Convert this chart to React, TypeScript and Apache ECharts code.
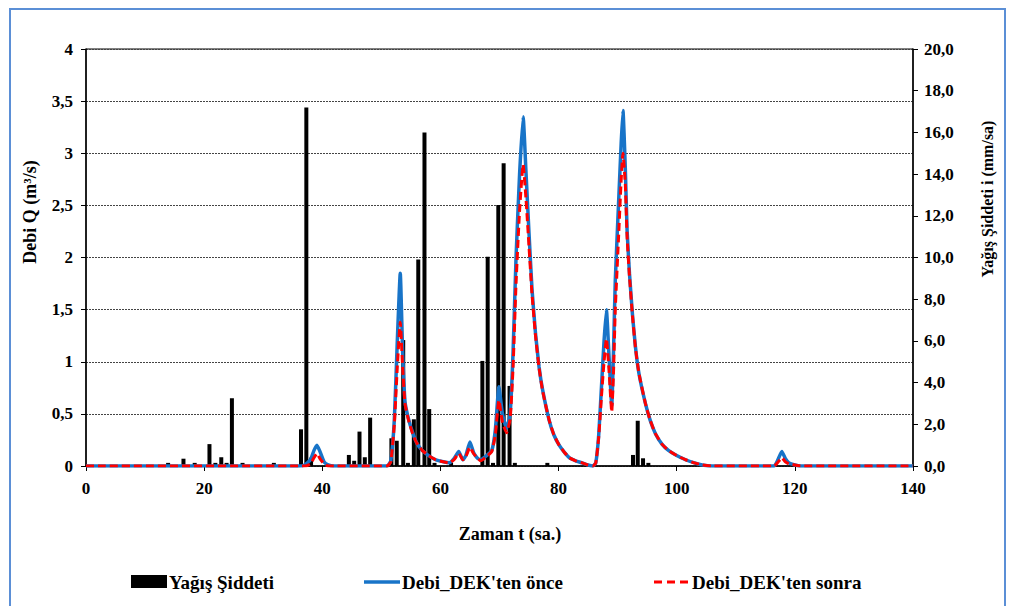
import React, { useEffect, useRef } from "react";
import * as echarts from "echarts";

// Rainfall intensity (mm/sa) – right axis
const rainTimes = [13.9, 16.5, 18.4, 20.9, 21.9, 22.9, 23.8, 24.7, 26.5, 31.8, 36.4, 37.3, 38.1, 44.5, 45.4, 46.3, 47.2, 48.1, 51.7, 52.6, 53.7, 54.5, 55.5, 56.25, 57.3, 58.1, 59.0, 61.8, 67.1, 68.0, 68.9, 69.8, 70.7, 71.7, 72.6, 78.1, 92.6, 93.4, 94.3, 95.2];
const rainValues = [0.15, 0.35, 0.15, 1.05, 0.15, 0.42, 0.15, 3.25, 0.15, 0.15, 1.76, 17.2, 0.4, 0.53, 0.25, 1.65, 0.42, 2.32, 1.33, 1.21, 6.04, 0.15, 2.24, 9.91, 16.0, 2.73, 0.15, 0.15, 5.04, 10.04, 0.15, 12.52, 14.52, 3.84, 0.15, 0.15, 0.53, 2.17, 0.37, 0.15];

// Discharge (m3/s) – left axis
const flowTimes = [0, 36, 37, 38, 38.6, 39.1, 39.6, 40.3, 41, 42, 51, 51.6, 52.2, 52.7, 53.2, 53.6, 54, 54.6, 55.3, 56, 56.9, 58, 59.2, 60.5, 61.5, 62.3, 63.1, 63.8, 64.3, 65, 65.6, 66.2, 66.8, 67.8, 68.7, 69.3, 69.9, 70.5, 71.2, 71.8, 72.3, 72.8, 73.4, 74, 74.5, 75, 75.5, 76.1, 76.7, 77.3, 78.4, 79.2, 80.1, 81, 81.8, 82.9, 84, 85, 85.8, 86.3, 86.8, 87.3, 87.7, 88.1, 88.5, 89, 89.3, 89.6, 90.2, 90.6, 90.9, 91.3, 91.6, 92, 92.5, 93, 93.6, 94.7, 95.5, 96.4, 97.5, 98.6, 100, 101.5, 103, 104.3, 106, 116.5, 117.2, 117.8, 118.4, 119, 120, 121, 140];
const flowBefore = [0, 0, 0.01, 0.06, 0.15, 0.2, 0.14, 0.04, 0.01, 0, 0, 0.05, 0.45, 1.2, 1.85, 1.1, 0.62, 0.45, 0.32, 0.22, 0.15, 0.1, 0.06, 0.04, 0.03, 0.07, 0.14, 0.06, 0.1, 0.23, 0.13, 0.08, 0.06, 0.1, 0.15, 0.35, 0.76, 0.5, 0.36, 0.5, 1.1, 2.0, 2.8, 3.35, 2.8, 2.23, 1.7, 1.27, 0.95, 0.73, 0.44, 0.3, 0.2, 0.13, 0.08, 0.05, 0.03, 0.01, 0, 0.03, 0.3, 0.8, 1.2, 1.5, 1.1, 0.58, 1.1, 1.78, 2.58, 3.1, 3.41, 2.85, 2.26, 1.85, 1.46, 1.15, 0.89, 0.6, 0.44, 0.31, 0.21, 0.15, 0.1, 0.06, 0.03, 0.01, 0, 0, 0.07, 0.14, 0.07, 0.03, 0.01, 0, 0];
const flowAfter = [0, 0, 0, 0.02, 0.08, 0.12, 0.07, 0.02, 0, 0, 0, 0.04, 0.4, 0.95, 1.38, 0.95, 0.6, 0.44, 0.31, 0.22, 0.15, 0.1, 0.06, 0.04, 0.03, 0.06, 0.12, 0.06, 0.09, 0.18, 0.12, 0.08, 0.05, 0.09, 0.14, 0.3, 0.63, 0.42, 0.32, 0.45, 0.95, 1.75, 2.45, 2.89, 2.55, 2.1, 1.65, 1.25, 0.94, 0.72, 0.44, 0.3, 0.2, 0.13, 0.08, 0.05, 0.03, 0.01, 0, 0.03, 0.28, 0.7, 1.0, 1.22, 0.95, 0.52, 0.9, 1.5, 2.25, 2.75, 3.0, 2.7, 2.2, 1.82, 1.45, 1.14, 0.89, 0.6, 0.44, 0.31, 0.21, 0.15, 0.1, 0.06, 0.03, 0.01, 0, 0, 0.04, 0.08, 0.04, 0.02, 0.01, 0, 0];

const seriesNames = ["Yağış Şiddeti", "Debi_DEK'ten önce", "Debi_DEK'ten sonra"];
const xTitle = "Zaman t (sa.)";
const leftTitle = "Debi Q (m³/s)";
const rightTitle = "Yağış Şiddeti i (mm/sa)";

const FONT = "Liberation Serif, Times New Roman, serif";
const BLUE = "#1874c8";
const RED = "#ff0000";

export default function App() {
  const ref = useRef<HTMLDivElement>(null);
  useEffect(() => {
    if (!ref.current) return;
    const chart = echarts.init(ref.current, null, { renderer: "svg" });
    const rainData = rainTimes.map((t, i) => [t, rainValues[i]]);
    const beforeData = flowTimes.map((t, i) => [t, flowBefore[i]]);
    const afterData = flowTimes.map((t, i) => [t, flowAfter[i]]);
    const labelStyle = { fontFamily: FONT, fontWeight: "bold" as const, fontSize: 17, color: "#000" };
    const txt = (text: string, x: number, y: number, size: number, rot = 0, align = "center") => ({
      type: "text", x, y, rotation: rot, silent: true,
      style: { text, fontFamily: FONT, fontWeight: "bold", fontSize: size, fill: "#000", textAlign: align, textVerticalAlign: "middle" },
    });
    const legendY = 582;
    chart.setOption({
      animation: false,
      backgroundColor: "#fff",
      grid: { left: 86, right: 99, top: 49, bottom: 140, show: true, borderColor: "#000", borderWidth: 1, backgroundColor: "transparent" },
      xAxis: {
        type: "value", min: 0, max: 140, interval: 20,
        axisLine: { show: true, lineStyle: { color: "#000", width: 1.5 } },
        axisTick: { show: true, length: 5, lineStyle: { color: "#000" } },
        axisLabel: { ...labelStyle, margin: 14 },
        splitLine: { show: false },
      },
      yAxis: [
        {
          type: "value", min: 0, max: 4, interval: 0.5, position: "left",
          axisLine: { show: true, lineStyle: { color: "#000", width: 1.5 } },
          axisTick: { show: true, length: 5, lineStyle: { color: "#000" } },
          axisLabel: { ...labelStyle, margin: 13, formatter: (v: number) => String(v).replace(".", ",") },
          splitLine: { show: true, lineStyle: { color: "#444", type: [2, 1], width: 1 } },
        },
        {
          type: "value", min: 0, max: 20, interval: 2, position: "right",
          axisLine: { show: true, lineStyle: { color: "#000", width: 1.5 } },
          axisTick: { show: true, length: 5, lineStyle: { color: "#000" } },
          axisLabel: { ...labelStyle, margin: 11, formatter: (v: number) => v.toFixed(1).replace(".", ",") },
          splitLine: { show: false },
        },
      ],
      series: [
        { name: seriesNames[0], type: "bar", xAxisIndex: 0, yAxisIndex: 1, data: rainData, barWidth: 4, itemStyle: { color: "#000" } },
        { name: seriesNames[1], type: "line", xAxisIndex: 0, yAxisIndex: 0, data: beforeData, symbol: "none", smooth: 0.15, lineStyle: { color: BLUE, width: 3.5 } },
        { name: seriesNames[2], type: "line", xAxisIndex: 0, yAxisIndex: 0, data: afterData, symbol: "none", smooth: 0.15, lineStyle: { color: RED, width: 3, type: [8, 4] } },
      ],
      graphic: [
        { type: "rect", silent: true, shape: { x: 10, y: 9, width: 995, height: 620 }, style: { fill: "none", stroke: "#5b8fd6", lineWidth: 2 } },
        txt(leftTitle, 30, 212, 18, Math.PI / 2),
        txt(rightTitle, 987, 199, 16, Math.PI / 2),
        txt(xTitle, 510, 534, 18),
        // legend
        { type: "rect", silent: true, shape: { x: 131, y: legendY - 7, width: 36, height: 13 }, style: { fill: "#000" } },
        txt(seriesNames[0], 169, legendY, 19, 0, "left"),
        { type: "line", silent: true, shape: { x1: 364, y1: legendY, x2: 400, y2: legendY }, style: { stroke: BLUE, lineWidth: 3.5 } },
        txt(seriesNames[1], 402, legendY, 19, 0, "left"),
        { type: "line", silent: true, shape: { x1: 654, y1: legendY, x2: 690, y2: legendY }, style: { stroke: RED, lineWidth: 3, lineDash: [8, 5] } },
        txt(seriesNames[2], 692, legendY, 19, 0, "left"),
      ],
    });
    return () => chart.dispose();
  }, []);
  return <div ref={ref} style={{ position: "absolute", left: 0, top: 0, width: 1012, height: 606 }} />;
}
